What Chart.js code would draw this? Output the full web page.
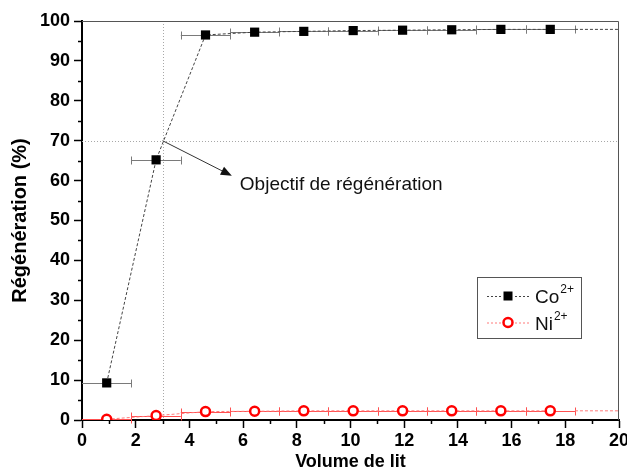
<!DOCTYPE html>
<html>
<head>
<meta charset="utf-8">
<script src="https://cdn.jsdelivr.net/npm/chart.js@4.4.1/dist/chart.umd.min.js"></script>
<style>
  html, body { margin: 0; padding: 0; background: #ffffff; }
  #wrap { width: 627px; height: 472px; }
</style>
</head>
<body>
<div id="wrap"><canvas id="c" width="627" height="472"></canvas></div>
<script>
// ---- data ----
const volume    = [0.92, 2.76, 4.60, 6.43, 8.26, 10.10, 11.94, 13.77, 15.60, 17.44];
const volumeErr = [0.92, 0.92, 0.92, 0.92, 0.92, 0.92, 0.92, 0.92, 0.92, 0.92];
const coRegen   = [9.3, 65.2, 96.5, 97.2, 97.4, 97.6, 97.7, 97.8, 97.9, 97.9];
const niRegen   = [0.2, 1.1, 2.1, 2.2, 2.3, 2.3, 2.3, 2.3, 2.3, 2.3];
const xTicks    = [0, 2, 4, 6, 8, 10, 12, 14, 16, 18, 20];
const yTicks    = [0, 10, 20, 30, 40, 50, 60, 70, 80, 90, 100];
const targetVolume = 3;     // vertical dotted guide
const targetRegen  = 70;    // horizontal dotted guide
const arrowFrom = [3, 70];
const arrowTo   = [5.58, 61.2];
const annotationText = "Objectif de régénération";
const seriesNames = [["Co", "2+"], ["Ni", "2+"]];

const coColor = '#000000', coLine = '#444444', coErr = '#7a7a7a';
const niColor = '#ff0000', niLine = '#ff7a7a', niErr = '#ff5050';

function pts(ys) { return volume.map((x, i) => ({ x: x, y: ys[i] })); }
function tail(ys) {
  const n = volume.length - 1;
  return [{ x: volume[n] + volumeErr[n], y: ys[n] }, { x: xTicks[xTicks.length - 1], y: ys[n] }];
}

const FONT = "'Liberation Sans', Arial, sans-serif";

const guidePlugin = {
  id: 'guides',
  beforeDatasetsDraw(chart) {
    const { ctx, chartArea: a, scales: { x, y } } = chart;
    ctx.save();
    ctx.strokeStyle = '#a8a8a8';
    ctx.lineWidth = 1;
    ctx.setLineDash([1, 2]);
    const gx = Math.round(x.getPixelForValue(targetVolume)) + 0.5;
    const gy = Math.round(y.getPixelForValue(targetRegen)) + 0.5;
    ctx.beginPath(); ctx.moveTo(gx, a.top); ctx.lineTo(gx, a.bottom); ctx.stroke();
    ctx.beginPath(); ctx.moveTo(a.left, gy); ctx.lineTo(a.right, gy); ctx.stroke();
    ctx.setLineDash([]);
    // error bars
    const drawErr = (ys, color) => {
      ctx.strokeStyle = color; ctx.lineWidth = 1;
      volume.forEach((v, i) => {
        const x0 = x.getPixelForValue(Math.max(v - volumeErr[i], x.min));
        const x1 = x.getPixelForValue(v + volumeErr[i]);
        const py = Math.round(y.getPixelForValue(ys[i])) + 0.5;
        ctx.beginPath(); ctx.moveTo(x0, py); ctx.lineTo(x1, py); ctx.stroke();
        [v - volumeErr[i], v + volumeErr[i]].forEach(e => {
          if (e <= x.min) return;
          const px = Math.round(x.getPixelForValue(e)) + 0.5;
          ctx.beginPath(); ctx.moveTo(px, py - 4); ctx.lineTo(px, py + 4); ctx.stroke();
        });
      });
    };
    drawErr(coRegen, coErr);
    drawErr(niRegen, niErr);
    ctx.restore();
  },
  afterDraw(chart) {
    const { ctx, chartArea: a, scales: { x, y } } = chart;
    ctx.save();
    // frame top/right
    ctx.strokeStyle = '#555555'; ctx.lineWidth = 1;
    ctx.beginPath();
    ctx.moveTo(a.left, a.top + 0.5); ctx.lineTo(a.right - 0.5, a.top + 0.5); ctx.lineTo(a.right - 0.5, a.bottom);
    ctx.stroke();
    // minor ticks
    ctx.strokeStyle = '#000'; ctx.lineWidth = 1.5;
    for (let i = 0; i < xTicks.length - 1; i++) {
      const px = Math.round(x.getPixelForValue((xTicks[i] + xTicks[i + 1]) / 2)) + 0.5;
      ctx.beginPath(); ctx.moveTo(px, a.bottom); ctx.lineTo(px, a.bottom + 4); ctx.stroke();
    }
    for (let i = 0; i < yTicks.length - 1; i++) {
      const py = Math.round(y.getPixelForValue((yTicks[i] + yTicks[i + 1]) / 2)) + 0.5;
      ctx.beginPath(); ctx.moveTo(a.left - 4, py); ctx.lineTo(a.left, py); ctx.stroke();
    }
    // arrow
    const ax0 = x.getPixelForValue(arrowFrom[0]), ay0 = y.getPixelForValue(arrowFrom[1]);
    const ax1 = x.getPixelForValue(arrowTo[0]), ay1 = y.getPixelForValue(arrowTo[1]);
    const ang = Math.atan2(ay1 - ay0, ax1 - ax0);
    ctx.strokeStyle = '#333'; ctx.fillStyle = '#111'; ctx.lineWidth = 1;
    ctx.beginPath(); ctx.moveTo(ax0, ay0);
    ctx.lineTo(ax1 - 8 * Math.cos(ang), ay1 - 8 * Math.sin(ang)); ctx.stroke();
    ctx.beginPath();
    ctx.moveTo(ax1, ay1);
    ctx.lineTo(ax1 - 11 * Math.cos(ang) + 4.5 * Math.sin(ang), ay1 - 11 * Math.sin(ang) - 4.5 * Math.cos(ang));
    ctx.lineTo(ax1 - 11 * Math.cos(ang) - 4.5 * Math.sin(ang), ay1 - 11 * Math.sin(ang) + 4.5 * Math.cos(ang));
    ctx.closePath(); ctx.fill();
    // annotation text
    ctx.font = "19px " + FONT;
    ctx.fillStyle = '#111';
    ctx.textBaseline = 'alphabetic';
    ctx.textAlign = 'left';
    ctx.fillText(annotationText, ax1 + 8, ay1 + 14);
    // legend
    const lx = a.right - 142, ly = a.top + 256, lw = 104, lh = 61;
    ctx.fillStyle = '#fff'; ctx.fillRect(lx, ly, lw, lh);
    ctx.strokeStyle = '#555'; ctx.lineWidth = 1;
    ctx.strokeRect(lx + 0.5, ly + 0.5, lw, lh);
    const rows = [
      { line: coLine, kind: 'sq' },
      { line: niLine, kind: 'ci' }
    ];
    rows.forEach((r, i) => {
      const cy = ly + 19 + i * 26.5;
      ctx.strokeStyle = r.line; ctx.lineWidth = 1; ctx.setLineDash([2, 2]);
      ctx.beginPath(); ctx.moveTo(lx + 10, cy + 0.5); ctx.lineTo(lx + 52, cy + 0.5); ctx.stroke();
      ctx.setLineDash([]);
      const mx = lx + 31;
      if (r.kind === 'sq') {
        ctx.fillStyle = '#fff'; ctx.fillRect(mx - 6, cy - 5, 12, 11);
        ctx.fillStyle = coColor; ctx.fillRect(mx - 4.5, cy - 4.5, 9, 9);
      } else {
        ctx.fillStyle = '#fff'; ctx.beginPath(); ctx.arc(mx, cy, 4.5, 0, Math.PI * 2); ctx.fill();
        ctx.strokeStyle = niColor; ctx.lineWidth = 2.5; ctx.stroke();
      }
      ctx.fillStyle = '#111';
      ctx.font = "19px " + FONT;
      ctx.fillText(seriesNames[i][0], lx + 58, cy + 7);
      const w = ctx.measureText(seriesNames[i][0]).width;
      ctx.font = "12px " + FONT;
      ctx.fillText(seriesNames[i][1], lx + 59 + w, cy - 3);
    });
    ctx.restore();
  }
};

new Chart(document.getElementById('c'), {
  type: 'scatter',
  data: {
    datasets: [
      { label: 'Co', data: pts(coRegen), showLine: true, borderColor: coLine, borderWidth: 1,
        borderDash: [3, 2], pointStyle: 'rect', pointRadius: 6.5, pointBackgroundColor: coColor,
        pointBorderColor: coColor, pointBorderWidth: 0, order: 1 },
      { label: 'Co tail', data: tail(coRegen), showLine: true, borderColor: coLine, borderWidth: 1,
        borderDash: [3, 2], pointRadius: 0, order: 3 },
      { label: 'Ni', data: pts(niRegen), showLine: true, borderColor: niLine, borderWidth: 1,
        borderDash: [3, 2], pointStyle: 'circle', pointRadius: 4.5, pointBackgroundColor: '#fff',
        pointBorderColor: niColor, pointBorderWidth: 2.5, order: 2 },
      { label: 'Ni tail', data: tail(niRegen), showLine: true, borderColor: niLine, borderWidth: 1,
        borderDash: [3, 2], pointRadius: 0, order: 4 }
    ]
  },
  options: {
    responsive: false,
    animation: false,
    events: [],
    layout: { padding: { top: 21, right: 8, left: 0, bottom: 0 } },
    plugins: { legend: { display: false }, tooltip: { enabled: false } },
    scales: {
      x: {
        type: 'linear', min: 0, max: 20,
        afterBuildTicks(s) { s.ticks = xTicks.map(v => ({ value: v })); },
        afterFit(s) { s.height = 52; s.paddingLeft = 0; s.paddingRight = 0; },
        grid: { drawOnChartArea: false, drawTicks: true, tickLength: 8, tickWidth: 1.5, tickColor: '#000' },
        border: { display: true, color: '#000', width: 2 },
        ticks: { color: '#000', padding: 2, maxRotation: 0, font: { family: FONT, size: 18, weight: 'bold' } },
        title: { display: true, text: 'Volume de lit', color: '#000', padding: { top: 0, bottom: -1 },
                 font: { family: FONT, size: 18, weight: 'bold' } }
      },
      y: {
        type: 'linear', min: 0, max: 100,
        afterBuildTicks(s) { s.ticks = yTicks.map(v => ({ value: v })); },
        afterFit(s) { s.width = 82; s.paddingTop = 0; s.paddingBottom = 0; },
        grid: { drawOnChartArea: false, drawTicks: true, tickLength: 8, tickWidth: 1.5, tickColor: '#000' },
        border: { display: true, color: '#000', width: 2 },
        ticks: { color: '#000', padding: 4, font: { family: FONT, size: 18, weight: 'bold' } },
        title: { display: true, text: 'Régénération (%)', color: '#000', padding: { top: 8, bottom: 0 },
                 font: { family: FONT, size: 20, weight: 'bold' } }
      }
    }
  },
  plugins: [guidePlugin]
});
</script>
</body>
</html>
